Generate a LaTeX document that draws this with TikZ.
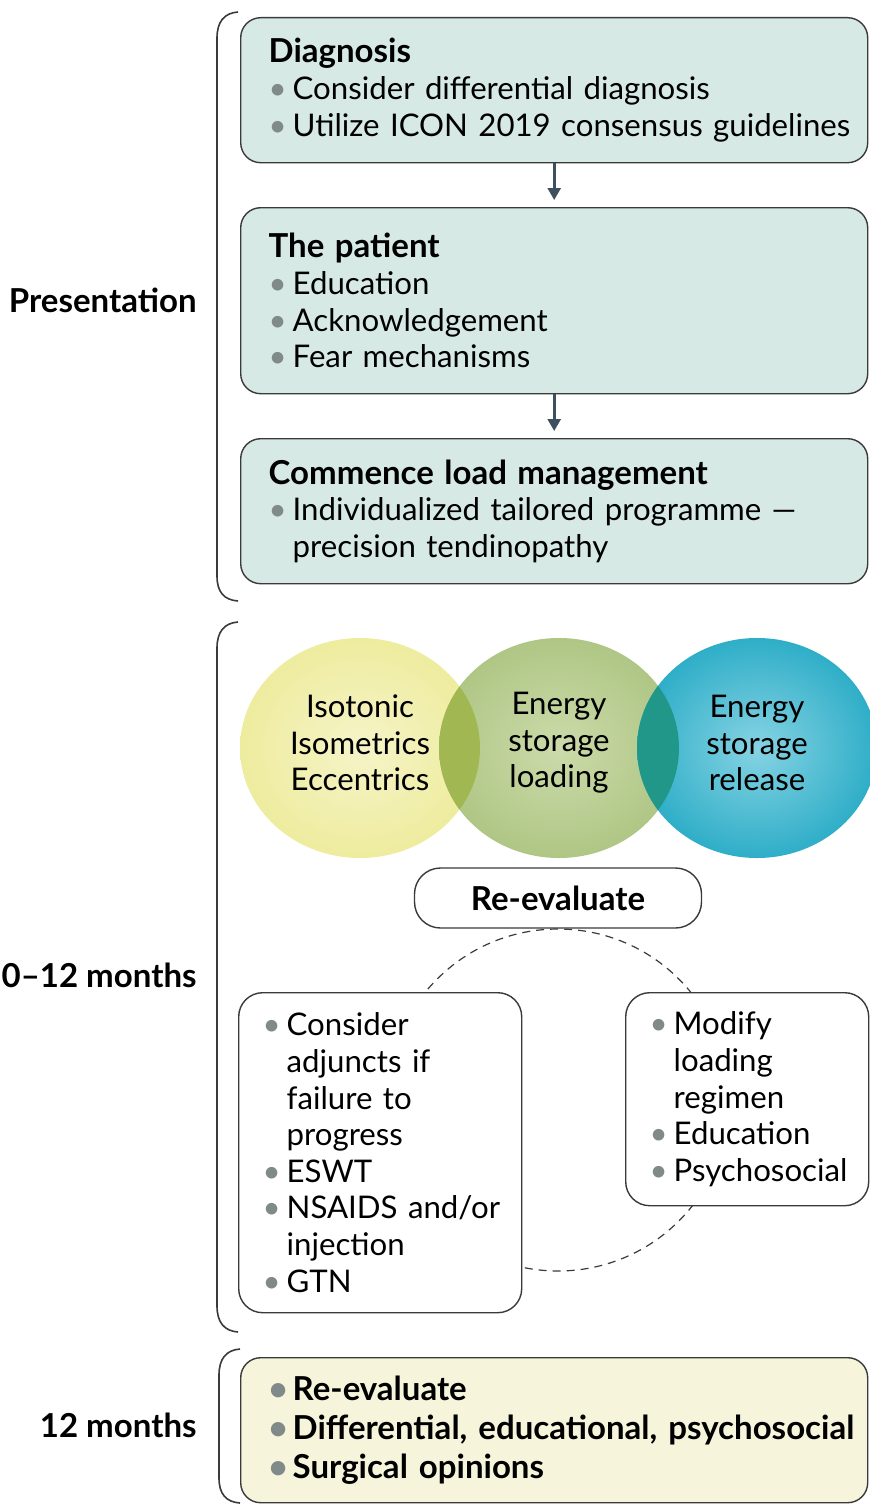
\documentclass[tikz,border=0pt]{standalone}
\usepackage{fontspec}
\setmainfont{Lato}
\usetikzlibrary{arrows.meta, positioning}

\definecolor{edge}{HTML}{3A3A3A}
\definecolor{tealbox}{HTML}{D6E9E5}
\definecolor{creambox}{HTML}{F6F5DC}
\definecolor{arrowc}{HTML}{3E5060}
\definecolor{dotgray}{HTML}{808A88}
\definecolor{yelin}{HTML}{F6F4C8}
\definecolor{yelout}{HTML}{EEEC9E}
\definecolor{grnin}{HTML}{CCDBAA}
\definecolor{grnout}{HTML}{AFC685}
\definecolor{bluin}{HTML}{86D3E3}
\definecolor{bluout}{HTML}{2FAEC8}
\definecolor{yelgrn}{HTML}{A0B752}
\definecolor{grnblu}{HTML}{21978A}

\newcommand{\bodysize}{\fontsize{15.6pt}{18.3pt}\selectfont}
\newcommand{\headsize}{\fontsize{16.5pt}{18.3pt}\selectfont\bfseries}
\newcommand{\itm}{\hspace*{10pt}\makebox[12pt][l]{\textcolor{dotgray}{\textbullet}}}
\newcommand{\ind}{\hspace*{22pt}}
\newcommand{\ttl}[1]{\hspace*{10pt}{\headsize #1}}

\begin{document}
\begin{tikzpicture}[
    x=0.5pt, y=-0.5pt,
    every node/.style={font=\bodysize},
    panel/.style={draw=edge, line width=0.7pt, rounded corners=10pt,
                  anchor=north west, align=left, inner xsep=4pt, inner ysep=0pt},
    note/.style={panel, fill=white, inner xsep=2pt, rounded corners=12pt},
    pill/.style={draw=edge, line width=0.7pt, fill=white, rounded corners=13pt,
                 minimum width=143.5pt, minimum height=30pt, inner sep=0pt,
                 font=\headsize},
    phase/.style={font=\headsize, anchor=east, inner sep=0pt},
    venn/.style={align=center},
    flow/.style={-{Triangle[length=6pt,width=6.5pt]}, line width=1.3pt,
                 draw=arrowc, shorten >=3.5pt},
    brace/.style={draw=edge, line width=0.8pt},
    cycleline/.style={draw=edge, line width=0.6pt, dash pattern=on 4pt off 3pt},
  ]
  \useasboundingbox (0,0) rectangle (869,1504);

  % phase brackets
  \draw[brace] (238,12) .. controls (224,13) and (217,22) .. (217,38)
    -- (217,576) .. controls (217,592) and (224,600) .. (238,601);
  \draw[brace] (238,622) .. controls (224,623) and (217,632) .. (217,648)
    -- (217,1306) .. controls (217,1322) and (224,1331) .. (238,1332);
  \draw[brace] (240,1349) .. controls (226,1350) and (219,1359) .. (219,1375)
    -- (219,1478) .. controls (219,1494) and (226,1502) .. (240,1503);

  \node[phase] (pres) at (197,300) {Presentation};
  \node[phase] (early) at (197,975) {0--12 months};
  \node[phase] (late) at (197,1425) {12 months};

  % presentation steps
  \node[panel, fill=tealbox, minimum width=313.5pt, minimum height=72.5pt,
        text width=305.5pt] (diag) at (240,17)
    {\ttl{Diagnosis}\\
     \itm Consider differential diagnosis\\
     \itm Utilize ICON 2019 consensus guidelines};
  \node[panel, fill=tealbox, minimum width=313.5pt, minimum height=93pt,
        text width=305.5pt] (patient) at (240,207)
    {\ttl{The patient}\\
     \itm Education\\
     \itm Acknowledgement\\
     \itm Fear mechanisms};
  \node[panel, fill=tealbox, minimum width=313.5pt, minimum height=72.5pt,
        text width=305.5pt] (load) at (240,438)
    {\ttl{Commence load management}\\
     \itm Individualized tailored programme ---\\
     \ind precision tendinopathy};

  \draw[flow] (diag.south) -- (patient.north);
  \draw[flow] (patient.south) -- (load.north);

  % loading circles
  \shade[inner color=yelin, outer color=yelout] (360,748) ellipse [x radius=120, y radius=110];
  \shade[inner color=grnin, outer color=grnout] (559,748) ellipse [x radius=120, y radius=110];
  \shade[inner color=bluin, outer color=bluout] (757,748) ellipse [x radius=120, y radius=110];
  \begin{scope}
    \clip (360,748) ellipse [x radius=120, y radius=110];
    \fill[yelgrn] (559,748) ellipse [x radius=120, y radius=110];
  \end{scope}
  \begin{scope}
    \clip (559,748) ellipse [x radius=120, y radius=110];
    \fill[grnblu] (757,748) ellipse [x radius=120, y radius=110];
  \end{scope}

  \node[venn] (iso) at (360,743) {Isotonic\\Isometrics\\Eccentrics};
  \node[venn] (esl) at (559,743) {Energy\\storage\\loading};
  \node[venn] (esr) at (757,743) {Energy\\storage\\release};

  % re-evaluation loop
  \coordinate (hub) at (558,1100);
  \draw[cycleline] (hub) circle [radius=171];

  \node[pill] (reeval) at (558,898) {Re-evaluate};

  \node[note, minimum width=141.5pt, minimum height=160pt,
        text width=137.5pt] (adjunct) at (238,992)
    {\itm Consider\\
     \ind adjuncts if\\
     \ind failure to\\
     \ind progress\\
     \itm ESWT\\
     \itm NSAIDS and/or\\
     \ind injection\\
     \itm GTN};
  \node[note, minimum width=121.5pt, minimum height=106.5pt,
        text width=117.5pt] (modify) at (625,992)
    {\itm Modify\\
     \ind loading\\
     \ind regimen\\
     \itm Education\\
     \itm Psychosocial};

  % twelve months
  \node[panel, fill=creambox, minimum width=313.5pt, minimum height=72.5pt,
        text width=305.5pt, font=\fontsize{16.5pt}{19.3pt}\selectfont\bfseries] (final) at (240,1357)
    {\itm Re-evaluate\\
     \itm Differential, educational, psychosocial\\
     \itm Surgical opinions};
\end{tikzpicture}
\end{document}
